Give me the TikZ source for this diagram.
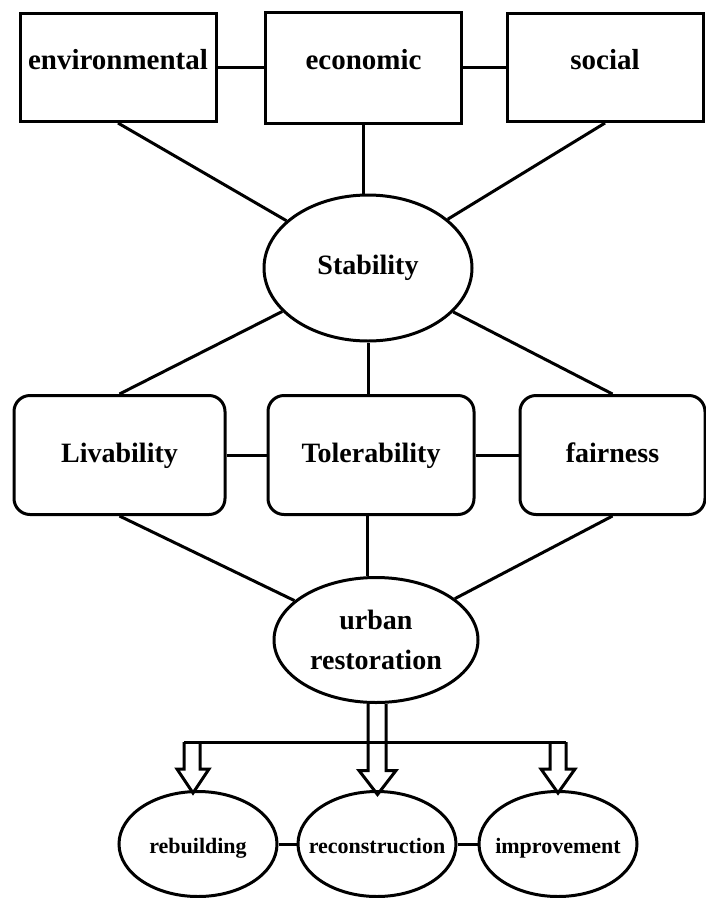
\documentclass[tikz,border=0pt]{standalone}
\usepackage{fontspec}
\setmainfont{Liberation Serif}
\usetikzlibrary{shapes.geometric}

\begin{document}
\begin{tikzpicture}[line width=3pt,
		every node/.style = {draw, align=center, inner sep=0pt},
		box/.style = {shape=rectangle, minimum width=196pt, minimum height=108pt,
			text height=20pt, text depth=16pt,
			font=\fontsize{29pt}{34pt}\selectfont\bfseries},
		roundbox/.style = {shape=rectangle, rounded corners=16pt,
			minimum width=206pt, minimum height=119pt,
			text height=20pt, text depth=6pt,
			font=\fontsize{28pt}{33pt}\selectfont\bfseries},
		oval/.style = {shape=ellipse, font=\fontsize{28pt}{40pt}\selectfont\bfseries},
		smalloval/.style = {shape=ellipse, minimum width=158pt, minimum height=105pt,
			text height=22pt, text depth=4pt,
			font=\fontsize{22pt}{26pt}\selectfont\bfseries}]

	\useasboundingbox (0pt,0pt) rectangle (705pt,-898pt);

	% top row
	\node[box, minimum height=111pt] (economic) at (363.5pt,-67.5pt) {economic};
	\node[box, left of=economic, node distance=245.5pt] (environmental) {environmental};
	\node[box, right of=economic, node distance=241.5pt] (social) {social};

	\node[oval, minimum width=208pt, minimum height=146pt,
		below of=economic, node distance=200.5pt, xshift=4.5pt] (stability) {Stability};

	% middle row
	\node[roundbox, below of=stability, node distance=187pt, xshift=3pt] (tolerability) {Tolerability};
	\node[roundbox, minimum width=211pt, left of=tolerability, node distance=251.5pt] (livability) {Livability};
	\node[roundbox, minimum width=185pt, right of=tolerability, node distance=241.5pt] (fairness) {fairness};

	\node[oval, minimum width=204pt, minimum height=125pt,
		below of=tolerability, node distance=185pt, xshift=5pt] (urban) {urban\\restoration};

	% bottom row
	\node[smalloval, below of=urban, node distance=204pt, xshift=1pt] (reconstruction) {\makebox[0pt]{reconstruction}};
	\node[smalloval, left of=reconstruction, node distance=179pt] (rebuilding) {\makebox[0pt]{rebuilding}};
	\node[smalloval, right of=reconstruction, node distance=181pt] (improvement) {\makebox[0pt]{improvement}};

	\draw (environmental) to (economic);
	\draw (economic) to (social);
	\draw (environmental.south) to (stability);
	\draw (economic.south) to (economic.south |- stability.north);
	\draw (social.south) to (stability);

	\draw (stability) to (livability.north);
	\draw (stability.south) to (stability.south |- tolerability.north);
	\draw (stability) to (fairness.north);
	\draw (livability) to (tolerability);
	\draw (tolerability) to (fairness);

	\draw (livability.south) to (urban);
	\draw ([xshift=-4pt]tolerability.south) to ([xshift=-4pt]tolerability.south |- urban.north);
	\draw (fairness.south) to (urban);

	\draw (rebuilding) to (reconstruction);
	\draw (reconstruction) to (improvement);

	% hollow arrows
	\coordinate (barleft) at (184pt,-742pt);
	\coordinate (barright) at (566pt,-742pt);
	\draw (barleft) to (barright);
	\draw (barleft) -- ++(0,-27pt) -- ++(-7pt,0) -- ++(16pt,-24pt) -- ++(16pt,24pt) -- ++(-9pt,0) -- ++(0,27pt);
	\draw ([xshift=-8pt]urban.south) -- ++(0,-66.5pt) -- ++(-9pt,0) -- ++(18.5pt,-24pt) -- ++(18.5pt,24pt) -- ++(-10pt,0) -- ++(0,66.5pt);
	\draw ([xshift=-16pt]barright) -- ++(0,-27pt) -- ++(-9pt,0) -- ++(17pt,-24pt) -- ++(17pt,24pt) -- ++(-9pt,0) -- (barright);
\end{tikzpicture}
\end{document}
